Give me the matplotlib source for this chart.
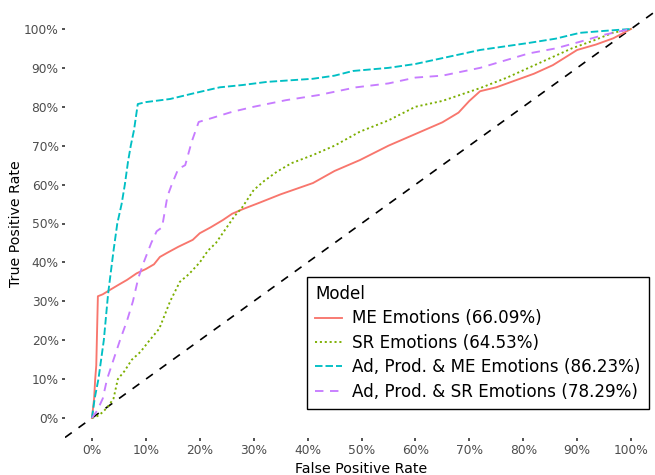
import matplotlib
matplotlib.use("Agg")
import matplotlib.pyplot as plt
from matplotlib.ticker import FuncFormatter

# ---- data ----
me_fpr = [0.0, 0.004, 0.006, 0.008, 0.011, 0.02, 0.033, 0.05, 0.065, 0.083, 0.10, 0.115, 0.126, 0.14,
          0.16, 0.187, 0.20, 0.22, 0.243, 0.26, 0.28, 0.31, 0.35, 0.41, 0.45, 0.497, 0.55, 0.60, 0.65,
          0.68, 0.70, 0.72, 0.75, 0.78, 0.82, 0.855, 0.90, 0.935, 0.967, 1.0]
me_tpr = [0.0, 0.05, 0.10, 0.135, 0.313, 0.318, 0.329, 0.343, 0.355, 0.372, 0.383, 0.395, 0.414, 0.425,
          0.44, 0.458, 0.475, 0.49, 0.509, 0.525, 0.537, 0.553, 0.575, 0.604, 0.635, 0.663, 0.70, 0.73, 0.76,
          0.785, 0.815, 0.84, 0.85, 0.865, 0.885, 0.907, 0.946, 0.96, 0.976, 1.0]

sr_fpr = [0.0, 0.01, 0.02, 0.03, 0.04, 0.048, 0.06, 0.074, 0.09, 0.107, 0.125, 0.145, 0.163, 0.18,
          0.20, 0.215, 0.23, 0.25, 0.265, 0.278, 0.30, 0.32, 0.343, 0.37, 0.41, 0.45, 0.497, 0.55, 0.60,
          0.65, 0.72, 0.77, 0.81, 0.85, 0.89, 0.93, 0.966, 1.0]
sr_tpr = [0.0, 0.005, 0.015, 0.03, 0.05, 0.10, 0.12, 0.15, 0.17, 0.20, 0.23, 0.30, 0.35, 0.37,
          0.40, 0.43, 0.45, 0.49, 0.52, 0.54, 0.586, 0.61, 0.633, 0.655, 0.676, 0.70, 0.736, 0.765, 0.80,
          0.815, 0.848, 0.875, 0.90, 0.925, 0.95, 0.97, 0.99, 1.0]

ape_fpr = [0.0, 0.005, 0.012, 0.022, 0.03, 0.04, 0.047, 0.055, 0.061, 0.067, 0.072, 0.078, 0.085,
           0.10, 0.145, 0.19, 0.237, 0.28, 0.325, 0.41, 0.45, 0.484, 0.55, 0.60, 0.65, 0.70, 0.72,
           0.81, 0.86, 0.905, 0.95, 1.0]
ape_tpr = [0.0, 0.05, 0.10, 0.20, 0.32, 0.43, 0.50, 0.55, 0.60, 0.66, 0.70, 0.74, 0.807,
           0.812, 0.82, 0.835, 0.85, 0.856, 0.864, 0.872, 0.88, 0.892, 0.90, 0.91, 0.925, 0.94, 0.946,
           0.964, 0.975, 0.99, 0.995, 1.0]

aps_fpr = [0.0, 0.01, 0.02, 0.028, 0.04, 0.052, 0.065, 0.076, 0.086, 0.096, 0.11, 0.12, 0.13,
           0.14, 0.148, 0.16, 0.173, 0.185, 0.198, 0.22, 0.26, 0.30, 0.36, 0.42, 0.49, 0.55, 0.60,
           0.65, 0.72, 0.81, 0.86, 0.905, 0.95, 1.0]
aps_tpr = [0.0, 0.02, 0.05, 0.10, 0.15, 0.20, 0.25, 0.30, 0.36, 0.40, 0.45, 0.48, 0.49,
           0.57, 0.60, 0.64, 0.65, 0.71, 0.761, 0.77, 0.787, 0.80, 0.817, 0.83, 0.85, 0.86, 0.875,
           0.88, 0.90, 0.937, 0.95, 0.967, 0.985, 1.0]

labels = ["ME Emotions (66.09%)", "SR Emotions (64.53%)",
          "Ad, Prod. & ME Emotions (86.23%)", "Ad, Prod. & SR Emotions (78.29%)"]
colors = ["#F8766D", "#7CAE00", "#00BFC4", "#C77CFF"]
ticks = [0.0, 0.1, 0.2, 0.3, 0.4, 0.5, 0.6, 0.7, 0.8, 0.9, 1.0]

# ---- figure ----
W, H = 655, 475
fig = plt.figure(figsize=(W / 100, H / 100), dpi=100)
ax = fig.add_axes([65 / W, (H - 437.5) / H, 593 / W, 428 / H])
ax.set_xlim(-0.05, 1.05)
ax.set_ylim(-0.05, 1.05)

ax.axline((0, 0), (1, 1), color="black", lw=1.2, linestyle=(0, (5, 5)), zorder=1)

styles = ["-", (0, (1.1, 1.5)), (0, (4, 1.6)), (0, (4.5, 3.5))]
series = [(me_fpr, me_tpr), (sr_fpr, sr_tpr), (ape_fpr, ape_tpr), (aps_fpr, aps_tpr)]
for (x, y), lab, c, ls in zip(series, labels, colors, styles):
    ax.plot(x, y, color=c, lw=1.35, linestyle=ls, label=lab, zorder=2)

for s in ax.spines.values():
    s.set_visible(False)

pct = FuncFormatter(lambda v, p: f"{v * 100:.0f}%")
ax.set_xticks(ticks)
ax.set_yticks(ticks)
ax.xaxis.set_major_formatter(pct)
ax.yaxis.set_major_formatter(pct)
ax.tick_params(axis="both", colors="#333333", labelcolor="#4D4D4D", labelsize=8.8,
               length=2.5, width=1.2, pad=2)

ax.set_xlabel("False Positive Rate", fontsize=10.2, color="black", labelpad=4)
ax.set_ylabel("True Positive Rate", fontsize=10.2, color="black", labelpad=1)

leg = ax.legend(title="Model", loc="lower right",
                bbox_to_anchor=(649 / W, (H - 409) / H), bbox_transform=fig.transFigure,
                fontsize=12.1, title_fontsize=12.1, frameon=True, fancybox=False,
                edgecolor="black", framealpha=1, borderaxespad=0, handlelength=1.6,
                handletextpad=0.6, labelspacing=0.38, borderpad=0.5)
leg.get_frame().set_linewidth(1.0)
leg._legend_box.align = "left"

fig.savefig("out.png", dpi=100)
